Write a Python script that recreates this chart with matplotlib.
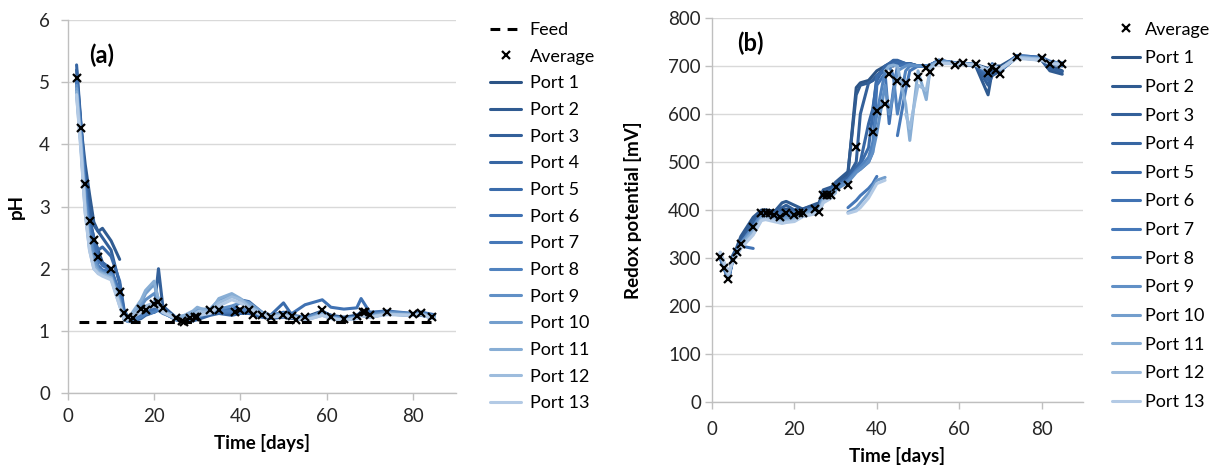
import numpy as np
import matplotlib
matplotlib.use("Agg")
import matplotlib.pyplot as plt

plt.rcParams['font.family'] = ['Lato', 'DejaVu Sans']

# ---------- pH panel data ----------
T_FEED = [2.5, 85]
FEED_PH = [1.14, 1.14]

T_AVG_PH = [2, 3, 4, 5, 6, 7, 10, 12, 13, 14, 15, 17, 18, 20, 21, 22, 25, 26.4, 27, 28.3, 29.5, 30,
            33, 35, 38.8, 40, 42, 43, 45, 47, 50, 52, 53, 55, 59, 61, 64, 67, 68.4, 69, 70, 74, 80, 82, 84.5]
AVG_PH = [5.07, 4.26, 3.36, 2.77, 2.47, 2.19, 1.99, 1.62, 1.29, 1.23, 1.20, 1.35, 1.33, 1.43, 1.47, 1.37,
          1.20, 1.16, 1.14, 1.20, 1.22, 1.22, 1.33, 1.33, 1.31, 1.33, 1.33, 1.25, 1.26, 1.23, 1.26, 1.24,
          1.17, 1.23, 1.33, 1.22, 1.19, 1.24, 1.31, 1.31, 1.26, 1.31, 1.27, 1.28, 1.22]

T_PH = [2, 3, 4, 5, 6, 7, 8, 10, 12, 13, 14, 15, 17, 18, 20, 21, 22, 25, 27, 29, 30,
        33, 35, 38, 40, 42, 45, 47, 50, 52, 55, 59, 61, 64, 67, 68, 70, 74, 80, 82, 85]
nan = np.nan
PORT_PH = [
    [5.00, 4.20, 3.30, 2.80, 2.50, 2.30, 2.10, 1.95, 1.55, 1.20, 1.15, 1.18, 1.25, 1.28, 1.30, 1.35, 1.30,
     1.20, 1.17, 1.18, 1.20, 1.28, 1.30, 1.28, 1.30, 1.30, 1.25, 1.22, 1.25, 1.22, 1.22, 1.30, 1.25, 1.22,
     1.25, 1.28, 1.27, 1.30, 1.27, 1.28, 1.25],
    [5.10, 4.30, 3.68, 3.20, 2.75, 2.60, 2.65, 2.45, 2.15, nan, 1.20, 1.18, 1.30, 1.32, 1.40, 1.45, 1.35,
     1.20, 1.15, 1.20, 1.22, 1.30, 1.33, 1.30, 1.35, 1.32, 1.27, 1.24, 1.28, 1.25, 1.22, 1.32, 1.24, 1.20,
     1.25, 1.30, 1.25, 1.30, 1.27, 1.30, 1.23],
    [5.20, 4.30, 3.50, 3.00, 2.70, 2.60, 2.50, 2.30, 1.75, 1.30, 1.20, 1.17, 1.28, 1.30, 1.35, 2.00, 1.40,
     1.22, 1.17, 1.20, 1.20, 1.30, 1.32, 1.30, 1.32, 1.30, 1.25, 1.22, 1.25, 1.24, 1.20, 1.30, 1.25, 1.20,
     1.22, 1.30, 1.25, 1.28, 1.25, 1.27, 1.22],
    [5.28, 4.35, 3.40, 2.80, 2.50, 2.20, 2.10, 2.00, 1.60, 1.25, 1.18, 1.15, 1.20, 1.25, 1.30, 1.35, 1.30,
     1.18, 1.14, 1.16, 1.18, 1.25, 1.28, 1.25, 1.28, 1.28, 1.22, 1.20, 1.22, 1.20, 1.18, 1.28, 1.22, 1.18,
     1.20, 1.25, 1.22, 1.27, 1.25, 1.25, 1.20],
    [5.00, 4.20, 3.30, 2.75, 2.45, 2.30, 2.35, 2.20, 1.80, 1.35, 1.20, 1.18, 1.25, 1.30, 1.35, 1.40, 1.30,
     1.20, 1.15, 1.18, 1.20, 1.30, 1.30, 1.30, 1.50, 1.47, 1.30, 1.25, 1.45, 1.25, 1.18, 1.28, 1.22, 1.20,
     1.22, 1.28, 1.25, 1.30, 1.27, 1.28, 1.25],
    [5.05, 4.25, 3.35, 2.70, 2.40, 2.15, 2.05, 1.98, 1.60, 1.30, 1.22, 1.20, 1.30, 1.32, 1.35, 1.38, 1.32,
     1.20, 1.15, 1.20, 1.22, 1.32, 1.35, 1.35, 1.35, 1.35, 1.28, 1.25, 1.30, 1.28, 1.42, 1.50, 1.38, 1.35,
     1.37, 1.52, 1.30, 1.32, 1.28, 1.30, 1.26],
    [5.00, 4.15, 3.20, 2.60, 2.30, 2.05, 1.98, 1.95, 1.55, 1.20, 1.15, 1.15, 1.25, 1.30, 1.32, 1.35, 1.30,
     1.18, 1.15, 1.20, 1.25, 1.30, 1.30, 1.30, 1.30, 1.30, 1.25, 1.22, 1.25, 1.22, 1.20, 1.30, 1.20, 1.18,
     1.20, 1.28, 1.25, 1.30, 1.27, 1.28, 1.23],
    [4.90, 4.10, 3.20, 2.60, 2.25, 2.00, 1.95, 1.92, 1.50, 1.20, 1.15, 1.17, 1.22, 1.27, 1.30, 1.33, 1.28,
     1.20, 1.15, 1.22, 1.25, 1.32, 1.32, 1.32, 1.35, 1.33, 1.27, 1.23, 1.26, 1.24, 1.20, 1.30, 1.22, 1.19,
     1.22, 1.28, 1.26, 1.30, 1.28, 1.28, 1.24],
    [4.95, 4.10, 3.10, 2.50, 2.20, 2.00, 1.95, 1.90, 1.50, 1.18, 1.15, 1.20, 1.40, 1.50, 1.60, 1.45, 1.30,
     1.18, 1.15, 1.20, 1.22, 1.30, 1.35, 1.40, 1.45, 1.42, 1.28, 1.25, 1.28, 1.25, 1.20, 1.30, 1.22, 1.20,
     1.22, 1.30, 1.25, 1.30, 1.27, 1.28, 1.24],
    [4.90, 4.00, 3.00, 2.40, 2.10, 1.98, 1.93, 1.88, 1.45, 1.20, 1.15, 1.25, 1.45, 1.60, 1.75, 1.50, 1.32,
     1.20, 1.20, 1.30, 1.35, 1.35, 1.50, 1.58, 1.50, 1.45, 1.30, 1.25, 1.27, 1.24, 1.18, 1.28, 1.20, 1.18,
     1.20, 1.27, 1.24, 1.28, 1.26, 1.27, 1.22],
    [4.85, 4.00, 2.95, 2.35, 2.05, 1.95, 1.92, 1.85, 1.45, 1.20, 1.17, 1.30, 1.50, 1.65, 1.80, 1.50, 1.33,
     1.22, 1.25, 1.32, 1.38, 1.30, 1.52, 1.60, 1.52, 1.40, 1.28, 1.24, 1.26, 1.23, 1.17, 1.27, 1.20, 1.18,
     1.20, 1.25, 1.23, 1.27, 1.25, 1.27, 1.22],
    [4.80, 3.95, 2.90, 2.30, 2.00, 1.93, 1.90, 1.85, 1.40, 1.20, 1.18, 1.25, 1.35, 1.40, 1.45, 1.40, 1.30,
     1.20, 1.18, 1.25, 1.30, 1.30, 1.45, 1.55, 1.50, 1.38, 1.27, 1.23, 1.25, 1.22, 1.17, 1.25, 1.20, 1.17,
     1.20, 1.25, 1.22, 1.27, 1.25, 1.26, 1.20],
    [4.80, 3.90, 2.90, 2.30, 2.00, 1.92, 1.88, 1.82, 1.40, 1.20, 1.18, 1.22, 1.30, 1.35, 1.40, 1.38, 1.30,
     1.20, 1.18, 1.22, 1.25, 1.28, 1.40, 1.50, 1.45, 1.35, 1.25, 1.22, 1.24, 1.22, 1.17, 1.25, 1.20, 1.17,
     1.20, 1.25, 1.22, 1.26, 1.25, 1.26, 1.20],
]

# ---------- redox panel data ----------
T_AVG_RX = [2, 3, 4, 5, 6, 7, 10, 12, 13, 14, 15, 16.5, 18, 20, 21, 22, 25, 26, 27, 28, 29, 30,
            33, 35, 39, 40, 42, 43, 45, 47, 50, 52, 53, 55, 59, 61, 64, 67, 68, 69, 70, 74, 80, 82, 85]
AVG_RX = [302, 279, 256, 296, 312, 330, 364, 393, 393, 393, 390, 386, 393, 390, 393, 393, 402, 396, 431,
          431, 431, 448, 452, 531, 562, 606, 621, 683, 669, 665, 677, 696, 688, 708, 702, 706, 704, 685,
          698, 692, 683, 719, 717, 704, 704]

T_RX = [2, 3, 4, 5, 6, 7, 10, 12, 13, 15, 17, 18, 20, 22, 25, 26, 27, 29, 30, 33, 35, 36, 38, 39, 40,
        42, 43, 44, 45, 47, 48, 50, 52, 53, 55, 59, 61, 64, 67, 68, 70, 74, 80, 82, 85]
PORT_RX = [
    [300, 278, 255, 300, 318, 340, 380, 398, 400, 398, 400, 402, 400, 402, 410, 412, 440, 445, 455, 475,
     655, 665, 670, 680, 690, 700, 705, 705, 705, 705, 705, 700, 700, 703, 710, 705, 705, 703, 695, 700,
     700, 720, 715, 700, 690],
    [305, 282, 258, 305, 322, 345, 385, 400, 400, 395, 415, 418, 410, 402, 412, 415, 442, 448, 458, 480,
     640, 660, 665, 670, 680, 695, 700, 700, 705, 705, 705, 700, 700, 700, 708, 705, 703, 700, 640, 690,
     695, 720, 712, 690, 683],
    [310, 285, 260, 300, 315, 335, 375, 396, 398, 395, 405, 410, 400, 400, 408, 410, 438, 445, 452, 470,
     500, 600, 665, 670, 680, 695, 705, 710, 710, 705, 703, 700, 700, 700, 710, 705, 705, 702, 660, 680,
     690, 718, 712, 695, 688],
    [305, 280, 258, 298, 312, 330, 365, 393, 395, 393, 395, 398, 395, 400, 405, 408, 436, 442, 450, 466,
     490, 500, 580, 610, 670, 700, 705, 712, 712, 705, 705, 700, 700, 702, 712, 707, 705, 702, 670, 700,
     695, 722, 718, 705, 700],
    [302, 278, 256, 296, 310, 328, 360, 390, 393, 390, 390, 392, 395, 398, 402, 405, 432, 440, 448, 462,
     485, 495, 530, 600, 680, 690, 700, 705, 708, 705, 703, 700, 700, 702, 712, 706, 705, 703, 680, 705,
     690, 720, 716, 708, 705],
    [300, 276, 255, 293, 308, 325, 320, nan, 392, 390, 388, 390, 392, 396, 400, 402, 430, 438, 446, 460,
     480, 485, 500, 520, 660, 685, 580, 650, 700, 703, 703, 700, 700, 701, 712, 706, 705, 703, 690, 702,
     690, 722, 718, 710, 705],
    [305, 280, 258, 297, 312, 330, 365, 392, 394, 392, 395, 396, 395, 398, 402, 405, 430, 438, nan, 405,
     420, 430, 445, 455, 470, nan, nan, nan, 555, 650, 690, 700, 700, 700, 710, 705, 705, 703, 685, 700,
     690, 720, 716, 708, 706],
    [305, 280, 258, 297, 312, 330, 365, 392, 394, 392, 392, 394, 393, 398, 402, 405, 432, 440, 448, 462,
     482, 490, 510, 540, 600, 690, 700, 680, 600, 690, 700, 700, 700, 701, 712, 706, 705, 703, 688, 702,
     692, 720, 716, 708, 706],
    [305, 282, 260, 298, 312, 330, 362, 390, 392, 388, 385, 387, 388, 395, 400, 402, 428, 435, 442, 458,
     478, 485, 500, 520, 560, 660, 600, 640, 690, 700, 703, 700, 700, 701, 710, 706, 705, 703, 690, 702,
     694, 720, 716, 708, 706],
    [308, 284, 262, 298, 310, 328, 358, 385, 388, 383, 380, 382, 385, 392, 398, 400, 425, 432, nan, 395,
     405, 415, 435, 448, 462, 468, nan, nan, nan, nan, nan, nan, nan, nan, 710, 706, 705, 703, 690, 700,
     694, 718, 714, 706, 704],
    [310, 285, 262, 296, 308, 325, 355, 382, 385, 380, 376, 378, 380, 390, 395, 398, 420, 430, 438, nan,
     nan, nan, nan, nan, nan, 690, 700, 702, 700, 620, 545, 690, 630, 700, 708, 705, 704, 702, 690, 700,
     692, 718, 714, 706, 704],
    [312, 288, 265, 295, 306, 322, 350, 380, 383, 378, 375, 376, 378, 388, 393, 396, 418, 428, 436, nan,
     nan, nan, nan, nan, nan, nan, nan, nan, nan, 600, 570, 660, 650, 695, 706, 705, 704, 702, 692, 700,
     694, 718, 714, 706, 704],
    [312, 290, 268, 294, 305, 320, 348, 378, 380, 376, 372, 374, 376, 386, 392, 395, 415, 425, nan, 393,
     398, 405, 425, 440, 455, 462, nan, nan, nan, nan, nan, nan, nan, nan, 705, 705, 704, 702, 692, 700,
     695, 716, 712, 705, 703],
]

PORT_NAMES = ['Port %d' % i for i in range(1, 14)]
PORT_COLORS = ['#2c5486', '#305b91', '#33609a', '#3766a3', '#3b6cab', '#4072b3', '#4678b8',
               '#5183bf', '#6190c6', '#739ecd', '#88aed5', '#9dbcdd', '#b3cae5']

fig = plt.figure(figsize=(12.2, 4.66), dpi=100)
ax1 = fig.add_axes([0.0557, 0.1567, 0.318, 0.800])
ax2 = fig.add_axes([0.5836, 0.1373, 0.304, 0.824])


def style_axis(ax, ypad, xpad):
    for s in ['top', 'right']:
        ax.spines[s].set_visible(False)
    for s in ['left', 'bottom']:
        ax.spines[s].set_color('#bfbfbf')
        ax.spines[s].set_linewidth(1.0)
    ax.grid(axis='y', color='#d9d9d9', linewidth=1.0)
    ax.set_axisbelow(True)
    ax.tick_params(colors='#bfbfbf', labelcolor='#262626', labelsize=13.5, length=5, width=1)
    ax.tick_params(axis='y', pad=ypad)
    ax.tick_params(axis='x', pad=xpad)
    ax.set_xlim(0, 90)
    ax.set_xticks([0, 20, 40, 60, 80])


# (a) pH
ax1.plot(T_FEED, FEED_PH, color='black', linestyle=(0, (3.2, 2.4)), linewidth=2.2, label='Feed', zorder=4)
ax1.plot(T_AVG_PH, AVG_PH, linestyle='none', marker='x', color='black', markersize=6,
         markeredgewidth=1.6, label='Average', zorder=5)
for vals, name, col in zip(PORT_PH, PORT_NAMES, PORT_COLORS):
    ax1.plot(T_PH, np.array(vals, dtype=float), color=col, linewidth=2.2, label=name,
             solid_capstyle='round', solid_joinstyle='round', zorder=3)
style_axis(ax1, 8, 6)
ax1.set_ylim(0, 6)
ax1.set_yticks(range(0, 7))
ax1.set_xlabel('Time [days]', fontsize=13.5, fontweight='bold', labelpad=6)
ax1.set_ylabel('pH', fontsize=13.5, fontweight='bold', labelpad=10)
ax1.text(0.054, 0.906, '(a)', transform=ax1.transAxes, fontsize=17, fontweight='bold', va='center')
ax1.legend(loc='upper left', bbox_to_anchor=(1.0876, 0.995), frameon=False, fontsize=13,
           handlelength=1.75, handletextpad=0.45, labelspacing=0.59, borderpad=0, borderaxespad=0)

# (b) redox
ax2.plot(T_AVG_RX, AVG_RX, linestyle='none', marker='x', color='black', markersize=6,
         markeredgewidth=1.6, label='Average', zorder=5)
for vals, name, col in zip(PORT_RX, PORT_NAMES, PORT_COLORS):
    ax2.plot(T_RX, np.array(vals, dtype=float), color=col, linewidth=2.2, label=name,
             solid_capstyle='round', solid_joinstyle='round', zorder=3)
style_axis(ax2, 3, 9)
ax2.set_ylim(0, 800)
ax2.set_yticks(range(0, 801, 100))
ax2.set_xlabel('Time [days]', fontsize=13.5, fontweight='bold', labelpad=6)
ax2.set_ylabel('Redox potential [mV]', fontsize=13.5, fontweight='bold', labelpad=19)
ax2.text(0.067, 0.935, '(b)', transform=ax2.transAxes, fontsize=17, fontweight='bold', va='center')
ax2.legend(loc='upper left', bbox_to_anchor=(1.078, 0.9906), frameon=False, fontsize=13,
           handlelength=1.55, handletextpad=0.3, labelspacing=0.70, borderpad=0, borderaxespad=0)

fig.savefig('out.png', dpi=100)
